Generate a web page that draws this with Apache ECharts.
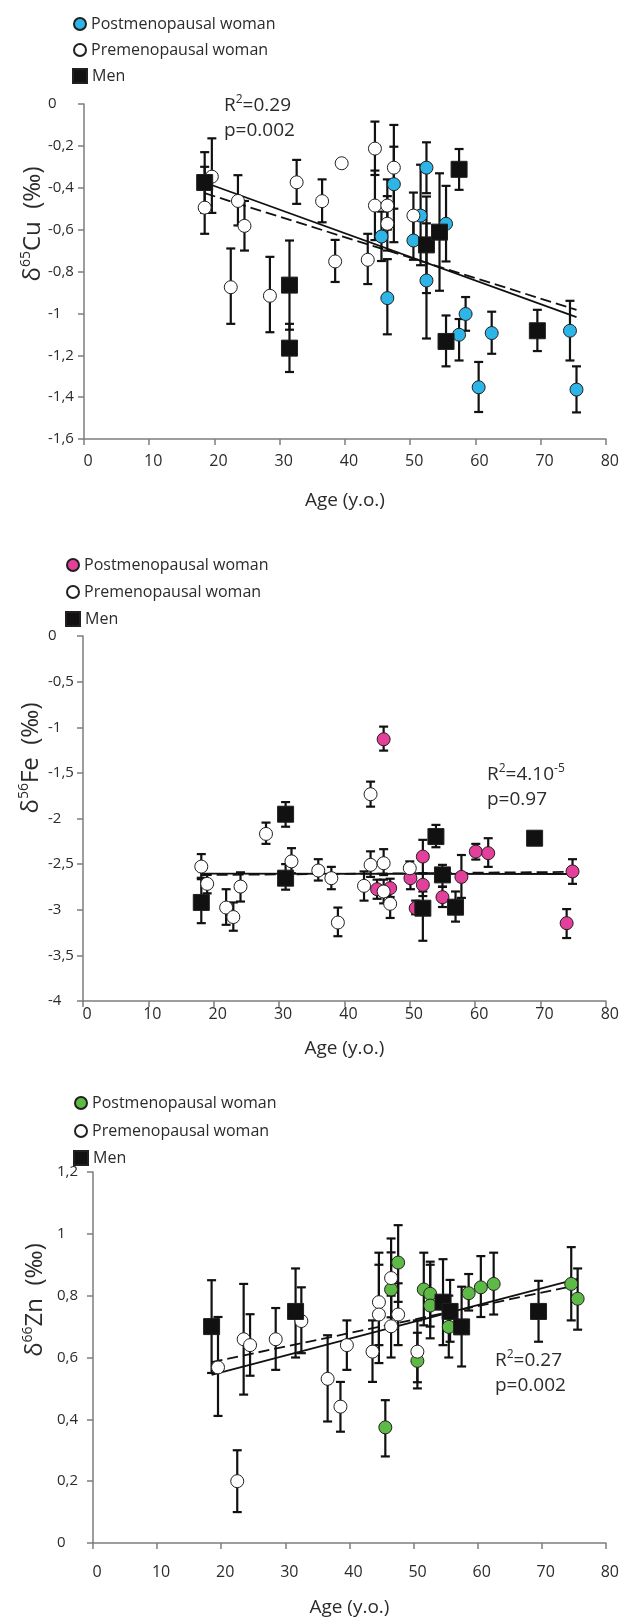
<!DOCTYPE html>
<html>
<head>
<meta charset="utf-8">
<script src="https://cdn.jsdelivr.net/npm/echarts/dist/echarts.min.js"></script>
<style>
html,body{margin:0;padding:0;background:#ffffff;}
#chart{width:622px;height:1618px;}
</style>
</head>
<body>
<div id="chart"></div>
<script>
// ---------------- DATA ----------------
const xTickLabels = ['0','10','20','30','40','50','60','70','80'];
const cuTickLabels = ['-1,6','-1,4','-1,2','-1','-0,8','-0,6','-0,4','-0,2','0'];
const feTickLabels = ['-4','-3,5','-3','-2,5','-2','-1,5','-1','-0,5','0'];
const znTickLabels = ['0','0,2','0,4','0,6','0,8','1','1,2'];
const legendLabels = ['Postmenopausal woman','Premenopausal woman','Men'];

// [age, value, error low, error high]
const cuPost = [
  [45.6,-0.633,-0.75,-0.514],[46.5,-0.927,-1.10,-0.741],[47.5,-0.383,-0.66,-0.204],
  [51.6,-0.533,-0.77,-0.29],[50.5,-0.652,-0.744,-0.553],[52.5,-0.304,-0.426,-0.183],
  [52.5,-0.843,-1.12,-0.57],[55.5,-0.572,-0.752,-0.391],[57.5,-1.102,-1.225,-1.027],
  [58.5,-1.003,-1.083,-0.922],[60.5,-1.353,-1.471,-1.232],[62.5,-1.094,-1.193,-0.992],
  [74.5,-1.083,-1.225,-0.94],[75.5,-1.364,-1.473,-1.253]
];
const cuPre = [
  [19.6,-0.347,-0.52,-0.164],[18.5,-0.495,-0.62,-0.30],[23.6,-0.463,-0.58,-0.34],
  [24.6,-0.582,-0.70,-0.463],[22.5,-0.875,-1.05,-0.69],[32.6,-0.374,-0.477,-0.267],
  [36.5,-0.464,-0.565,-0.36],[28.5,-0.916,-1.09,-0.73],[38.5,-0.752,-0.85,-0.649],
  [39.5,-0.283,null,null],[43.5,-0.744,-0.86,-0.62],[44.6,-0.213,-0.339,-0.084],
  [44.6,-0.485,-0.65,-0.318],[46.5,-0.485,-0.60,-0.36],[46.5,-0.572,-0.70,-0.44],
  [47.5,-0.304,-0.50,-0.10],[50.5,-0.533,-0.64,-0.423]
];
const cuMen = [
  [18.5,-0.375,-0.52,-0.23],[31.5,-0.865,-1.078,-0.652],[31.5,-1.166,-1.28,-1.05],
  [52.5,-0.673,-0.903,-0.442],[54.5,-0.612,-0.892,-0.331],[55.5,-1.134,-1.253,-1.01],
  [57.5,-0.312,-0.41,-0.215],[69.5,-1.083,-1.18,-0.983]
];
const cuFitSolid = [[18.5,-0.375],[75.5,-1.018]];
const cuFitDashed = [[18.5,-0.426],[75.5,-0.983]];

const fePost = [
  [45.0,-2.775,-2.88,-2.67],[46.0,-1.132,-1.256,-0.993],[47.0,-2.763,-2.86,-2.66],
  [50.1,-2.654,-2.775,-2.53],[50.9,-2.983,-3.05,-2.9],[52.0,-2.417,-2.6,-2.234],
  [52.0,-2.727,-2.85,-2.6],[55.0,-2.862,-2.97,-2.75],[57.9,-2.64,-2.87,-2.4],
  [60.1,-2.363,-2.45,-2.278],[62.0,-2.38,-2.53,-2.216],[74.0,-3.147,-3.31,-2.993],
  [74.9,-2.58,-2.716,-2.446]
];
const fePre = [
  [18.1,-2.527,-2.65,-2.39],[19.0,-2.716,-2.82,-2.61],[21.9,-2.976,-3.165,-2.775],
  [23.0,-3.08,-3.23,-2.92],[24.1,-2.746,-2.91,-2.59],[28.0,-2.169,-2.278,-2.045],
  [31.9,-2.47,-2.6,-2.325],[36.0,-2.57,-2.68,-2.446],[38.0,-2.654,-2.775,-2.53],
  [39.0,-3.14,-3.29,-2.976],[43.0,-2.738,-2.9,-2.58],[44.0,-1.734,-1.87,-1.596],
  [44.0,-2.508,-2.64,-2.36],[46.0,-2.49,-2.62,-2.336],[46.0,-2.80,-2.93,-2.67],
  [47.0,-2.935,-3.09,-2.80],[50.0,-2.545,-2.62,-2.47]
];
const feMen = [
  [18.1,-2.92,-3.147,-2.665],[31.0,-1.953,-2.09,-1.82],[31.0,-2.654,-2.78,-2.5],
  [52.0,-2.983,-3.34,-2.80],[54.0,-2.198,-2.315,-2.07],[55.0,-2.618,-2.746,-2.508],
  [57.0,-2.972,-3.13,-2.8],[69.1,-2.216,-2.25,-2.18]
];
const feFitSolid = [[18.0,-2.605],[75.0,-2.608]];
const feFitDashed = [[18.0,-2.62],[75.0,-2.585]];

const znPost = [
  [45.6,0.374,0.28,0.462],[46.5,0.82,0.70,0.94],[47.6,0.907,0.78,1.028],
  [50.6,0.589,0.50,0.68],[51.6,0.82,0.704,0.939],[52.6,0.806,0.70,0.91],
  [52.6,0.768,0.662,0.9],[55.5,0.699,0.6,0.8],[58.6,0.808,0.752,0.87],
  [60.5,0.827,0.731,0.928],[62.5,0.838,0.739,0.939],[74.6,0.838,0.72,0.957],
  [75.6,0.79,0.69,0.888]
];
const znPre = [
  [19.5,0.568,0.411,0.731],[22.5,0.2,0.1,0.3],[23.5,0.659,0.48,0.838],
  [24.5,0.64,0.541,0.74],[28.5,0.659,0.56,0.76],[32.5,0.718,0.614,0.827],
  [36.6,0.531,0.393,0.672],[38.6,0.441,0.36,0.521],[39.6,0.64,0.56,0.72],
  [43.6,0.619,0.521,0.72],[44.6,0.779,0.64,0.939],[44.6,0.739,0.582,0.90],
  [46.5,0.857,0.73,0.985],[46.5,0.701,0.60,0.80],[47.6,0.739,0.64,0.84],
  [50.6,0.619,0.52,0.72]
];
const znMen = [
  [18.5,0.70,0.55,0.85],[31.6,0.749,0.60,0.888],[54.6,0.779,0.64,0.918],
  [55.7,0.749,0.651,0.851],[57.5,0.699,0.571,0.829],[69.5,0.749,0.651,0.848]
];
const znFitSolid = [[18.5,0.544],[75.6,0.854]];
const znFitDashed = [[18.5,0.585],[74.6,0.83]];

// ---------------- PANELS ----------------
const panels = [
  { post: cuPost, pre: cuPre, men: cuMen, solid: cuFitSolid, dashed: cuFitDashed,
    yMin: -1.6, yMax: 0, yStep: 0.2, yLabels: cuTickLabels,
    yTitle: '{d|δ}{s|65}{d|Cu  (‰)}', stat1: '{a|R}{s|2}{a|=0.29}', stat2: '{a|p=0.002}' },
  { post: fePost, pre: fePre, men: feMen, solid: feFitSolid, dashed: feFitDashed,
    yMin: -4, yMax: 0, yStep: 0.5, yLabels: feTickLabels,
    yTitle: '{d|δ}{s|56}{d|Fe  (‰)}', stat1: '{a|R}{s|2}{a|=4.10}{s|-5}', stat2: '{a|p=0.97}' },
  { post: znPost, pre: znPre, men: znMen, solid: znFitSolid, dashed: znFitDashed,
    yMin: 0, yMax: 1.2, yStep: 0.2, yLabels: znTickLabels,
    yTitle: '{d|δ}{s|66}{d|Zn  (‰)}', stat1: '{a|R}{s|2}{a|=0.27}', stat2: '{a|p=0.002}' }
];

// ---------------- STYLE / LAYOUT ----------------
const styles = [
  { grid: {left: 84, top: 104, width: 525, height: 335}, postColor: '#2cb5e6',
    legendX: 79, legendY: [25, 51, 77], xLabelMargin: 14, xNameGap: 52, yLabelMargin: 36,
    yTitlePos: [33, 224], statPos: [224, 94] },
  { grid: {left: 83, top: 636, width: 524, height: 365}, postColor: '#e2409a',
    legendX: 72, legendY: [566, 593, 620], xLabelMargin: 5, xNameGap: 38, yLabelMargin: 35,
    yTitlePos: [31, 758], statPos: [487, 763] },
  { grid: {left: 93, top: 1172, width: 524, height: 375}, postColor: '#5dba47',
    legendX: 80, legendY: [1104, 1132, 1159], xLabelMargin: 21, xNameGap: 55, yLabelMargin: 36,
    yTitlePos: [35, 1300], statPos: [495, 1349] }
];

const FONT = 'Open Sans';
const TXT = '#2b2b2b';
const AXIS = '#7d7d7d';
const INK = '#111111';

function errRender(params, api) {
  const x = api.value(0);
  const lo = api.coord([x, api.value(1)]);
  const hi = api.coord([x, api.value(2)]);
  const cw = 4.5;
  const st = {stroke: INK, lineWidth: 2.2};
  return {
    type: 'group',
    children: [
      {type: 'line', shape: {x1: lo[0], y1: lo[1], x2: hi[0], y2: hi[1]}, style: st},
      {type: 'line', shape: {x1: lo[0] - cw, y1: lo[1], x2: lo[0] + cw, y2: lo[1]}, style: st},
      {type: 'line', shape: {x1: hi[0] - cw, y1: hi[1], x2: hi[0] + cw, y2: hi[1]}, style: st}
    ]
  };
}

const option = {
  animation: false,
  backgroundColor: '#ffffff',
  textStyle: {fontFamily: FONT},
  grid: [], xAxis: [], yAxis: [], series: [], legend: [], graphic: []
};

panels.forEach((p, i) => {
  const s = styles[i];
  option.grid.push(Object.assign({containLabel: false}, s.grid));
  option.xAxis.push({
    gridIndex: i, type: 'value', min: 0, max: 80, interval: 10,
    axisLine: {onZero: false, lineStyle: {color: AXIS, width: 1.5}},
    axisTick: {length: 6, lineStyle: {color: AXIS, width: 1.5}},
    splitLine: {show: false},
    axisLabel: {color: TXT, fontSize: 16, margin: s.xLabelMargin, padding: [0, 0, 0, 8],
      formatter: v => xTickLabels[Math.round(v / 10)]},
    name: 'Age (y.o.)', nameLocation: 'middle', nameGap: s.xNameGap,
    nameTextStyle: {color: TXT, fontSize: 19, fontFamily: FONT}
  });
  option.yAxis.push({
    gridIndex: i, type: 'value', min: p.yMin, max: p.yMax, interval: p.yStep,
    axisLine: {show: true, onZero: false, lineStyle: {color: AXIS, width: 1.5}},
    axisTick: {show: true, length: 6, lineStyle: {color: AXIS, width: 1.5}},
    splitLine: {show: false},
    axisLabel: {color: TXT, fontSize: 15, margin: s.yLabelMargin, align: 'left',
      formatter: v => p.yLabels[Math.round((v - p.yMin) / p.yStep)]}
  });

  const errData = [].concat(p.post, p.pre, p.men)
    .filter(d => d[2] != null)
    .map(d => [d[0], d[2], d[3]]);
  option.series.push({
    type: 'custom', xAxisIndex: i, yAxisIndex: i, silent: true, z: 1,
    renderItem: errRender, encode: {x: 0, y: [1, 2]}, data: errData
  });
  option.series.push({
    type: 'line', xAxisIndex: i, yAxisIndex: i, silent: true, z: 2, symbol: 'none',
    lineStyle: {color: INK, width: 1.8, type: 'solid'}, data: p.solid
  });
  option.series.push({
    type: 'line', xAxisIndex: i, yAxisIndex: i, silent: true, z: 2, symbol: 'none',
    lineStyle: {color: INK, width: 1.8, type: [11, 5]}, data: p.dashed
  });
  const groups = [
    {name: 'post' + i, data: p.post, symbol: 'circle', size: 13, color: s.postColor},
    {name: 'pre' + i, data: p.pre, symbol: 'circle', size: 13, color: '#ffffff'},
    {name: 'men' + i, data: p.men, symbol: 'rect', size: 16, color: '#111111'}
  ];
  groups.forEach((g, k) => {
    option.series.push({
      type: 'scatter', name: g.name, xAxisIndex: i, yAxisIndex: i, z: 3,
      symbol: g.symbol, symbolSize: g.size,
      itemStyle: {color: g.color, borderColor: '#231f20', borderWidth: 1, opacity: 1},
      data: g.data.map(d => [d[0], d[1]])
    });
    const iconSize = k === 2 ? 14 : 12;
    option.legend.push({
      data: [g.name], orient: 'vertical', selectedMode: false, padding: 0,
      left: s.legendX - iconSize / 2, top: s.legendY[k] - 9,
      itemWidth: iconSize, itemHeight: iconSize,
      formatter: () => legendLabels[k],
      textStyle: {fontSize: 16, color: TXT, fontFamily: FONT}
    });
  });

  option.graphic.push({
    type: 'text', x: s.yTitlePos[0], y: s.yTitlePos[1], rotation: Math.PI / 2,
    style: {
      text: p.yTitle, align: 'center', verticalAlign: 'middle',
      rich: {
        d: {fontSize: 24, fontFamily: FONT, fill: TXT, lineHeight: 28},
        s: {fontSize: 14, fontFamily: FONT, fill: TXT, verticalAlign: 'top', lineHeight: 15}
      }
    }
  });
  const statRich = {
    a: {fontSize: 19, fontFamily: FONT, fill: TXT, lineHeight: 24},
    s: {fontSize: 12, fontFamily: FONT, fill: TXT, verticalAlign: 'top', lineHeight: 13}
  };
  option.graphic.push({
    type: 'text', x: s.statPos[0], y: s.statPos[1],
    style: {text: p.stat1, rich: statRich, align: 'left', verticalAlign: 'top'}
  });
  option.graphic.push({
    type: 'text', x: s.statPos[0], y: s.statPos[1] + 25,
    style: {text: p.stat2, rich: statRich, align: 'left', verticalAlign: 'top'}
  });
});

const chart = echarts.init(document.getElementById('chart'), null, {renderer: 'canvas'});
chart.setOption(option);
</script>
</body>
</html>
